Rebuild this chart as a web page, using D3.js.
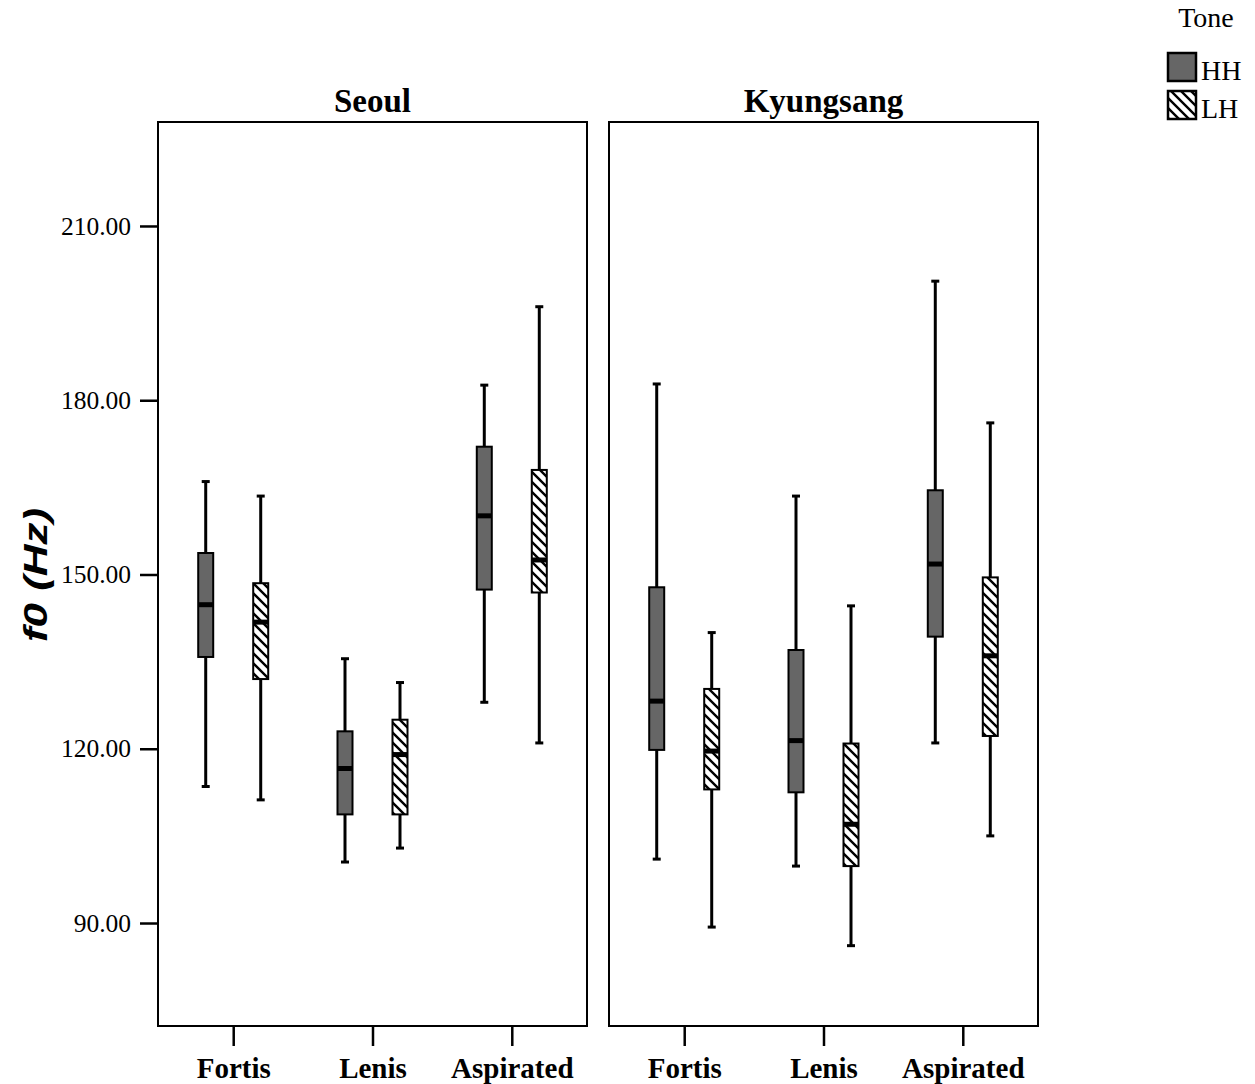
<!DOCTYPE html>
<html>
<head>
<meta charset="utf-8">
<script src="https://cdn.jsdelivr.net/npm/d3@7"></script>
<style>
  body { margin: 0; background: #fff; }
  svg { display: block; }
</style>
</head>
<body>
<svg id="chart" width="1255" height="1084"></svg>
<script>
// ---- data ----
const panels = ["Seoul", "Kyungsang"];
const categories = ["Fortis", "Lenis", "Aspirated"];
const tones = ["HH", "LH"];
const yTicks = [90, 120, 150, 180, 210];
// each entry: [lower whisker, Q1, median, Q3, upper whisker], order: Fortis, Lenis, Aspirated
const seoulHH = [
  [113.5, 135.8, 144.8, 153.7, 166.0],
  [100.5, 108.7, 116.6, 123.0, 135.5],
  [128.0, 147.4, 160.1, 172.0, 182.6]
];
const seoulLH = [
  [111.2, 132.0, 141.8, 148.5, 163.5],
  [102.9, 108.7, 119.0, 125.0, 131.4],
  [121.0, 146.9, 152.5, 168.0, 196.1]
];
const kyungHH = [
  [101.0, 119.8, 128.2, 147.8, 182.8],
  [99.8, 112.5, 121.4, 137.0, 163.5],
  [121.0, 139.3, 151.8, 164.5, 200.5]
];
const kyungLH = [
  [89.3, 113.0, 119.6, 130.3, 140.0],
  [86.1, 99.8, 107.0, 120.9, 144.6],
  [105.0, 122.2, 136.0, 149.5, 176.1]
];
const panelData = { "Seoul": { HH: seoulHH, LH: seoulLH }, "Kyungsang": { HH: kyungHH, LH: kyungLH } };

// ---- layout ----
const svg = d3.select("#chart");
const panelLefts = [158, 609];
const panelWidth = 429;
const plotTop = 122, plotBottom = 1026;
const serif = "'Liberation Serif', 'Times New Roman', serif";

const defs = svg.append("defs");
const pat = defs.append("pattern")
  .attr("id", "hatch")
  .attr("patternUnits", "userSpaceOnUse")
  .attr("width", 10).attr("height", 10);
pat.append("rect").attr("width", 10).attr("height", 10).attr("fill", "#fff");
pat.append("path")
  .attr("d", "M0,0 L10,10 M-2,8 L2,12 M8,-2 L12,2")
  .attr("stroke", "#000").attr("stroke-width", 2.4);

const fills = { HH: "#666666", LH: "url(#hatch)" };

const y = d3.scaleLinear().domain([72.27, 227.9]).range([plotBottom, plotTop]);
const sub = d3.scalePoint().domain(tones).range([-27.5, 27.5]);
const boxW = 15, capW = 8;

panels.forEach((p, pi) => {
  const left = panelLefts[pi];
  const x = d3.scalePoint().domain(categories).range([left, left + panelWidth]).padding(0.54);
  const g = svg.append("g");

  // frame
  g.append("rect")
    .attr("x", left).attr("y", plotTop)
    .attr("width", panelWidth).attr("height", plotBottom - plotTop)
    .attr("fill", "none").attr("stroke", "#000").attr("stroke-width", 2);

  // title
  g.append("text")
    .attr("x", left + panelWidth / 2).attr("y", 112)
    .attr("text-anchor", "middle")
    .attr("font-family", serif).attr("font-weight", "bold").attr("font-size", 33)
    .text(p);

  // x axis
  const xa = g.append("g").attr("transform", `translate(0,${plotBottom})`)
    .call(d3.axisBottom(x).tickSize(20).tickSizeOuter(0).tickPadding(11));
  xa.select(".domain").remove();
  xa.selectAll("line").attr("stroke", "#000").attr("stroke-width", 2.5);
  xa.selectAll("text").attr("font-family", serif).attr("font-weight", "bold")
    .attr("font-size", 29).attr("fill", "#000");

  // y axis on first panel
  if (pi === 0) {
    const ya = g.append("g").attr("transform", `translate(${left},0)`)
      .call(d3.axisLeft(y).tickValues(yTicks).tickFormat(d3.format(".2f")).tickSize(18).tickSizeOuter(0).tickPadding(9));
    ya.select(".domain").remove();
    ya.selectAll("line").attr("stroke", "#000").attr("stroke-width", 2.5);
    ya.selectAll("text").attr("font-family", serif).attr("font-size", 25.5).attr("fill", "#000");
  }

  // boxes
  tones.forEach(t => {
    panelData[p][t].forEach((d, ci) => {
      const cx = x(categories[ci]) + sub(t);
      const [lo, q1, med, q3, hi] = d;
      const bg = g.append("g");
      bg.append("line").attr("x1", cx).attr("x2", cx).attr("y1", y(hi)).attr("y2", y(q3))
        .attr("stroke", "#000").attr("stroke-width", 3);
      bg.append("line").attr("x1", cx).attr("x2", cx).attr("y1", y(q1)).attr("y2", y(lo))
        .attr("stroke", "#000").attr("stroke-width", 3);
      [hi, lo].forEach(v => {
        bg.append("line").attr("x1", cx - capW / 2).attr("x2", cx + capW / 2)
          .attr("y1", y(v)).attr("y2", y(v)).attr("stroke", "#000").attr("stroke-width", 3);
      });
      bg.append("rect").attr("x", cx - boxW / 2).attr("y", y(q3))
        .attr("width", boxW).attr("height", y(q1) - y(q3))
        .attr("fill", fills[t]).attr("stroke", "#000").attr("stroke-width", 2);
      bg.append("line").attr("x1", cx - boxW / 2).attr("x2", cx + boxW / 2)
        .attr("y1", y(med)).attr("y2", y(med)).attr("stroke", "#000").attr("stroke-width", 5);
    });
  });
});

// y-axis title
svg.append("text")
  .attr("transform", "translate(47,575) rotate(-90)")
  .attr("text-anchor", "middle")
  .attr("font-family", "'Liberation Sans', Arial, sans-serif")
  .attr("font-weight", "bold").attr("font-style", "italic").attr("font-size", 34)
  .attr("textLength", 134).attr("lengthAdjust", "spacingAndGlyphs")
  .text("f0 (Hz)");

// legend
const lg = svg.append("g");
lg.append("text").attr("x", 1206).attr("y", 27).attr("text-anchor", "middle")
  .attr("font-family", serif).attr("font-size", 28).text("Tone");
tones.forEach((t, i) => {
  const yy = 53 + i * 38;
  lg.append("rect").attr("x", 1168).attr("y", yy).attr("width", 28).attr("height", 28)
    .attr("fill", fills[t]).attr("stroke", "#000").attr("stroke-width", 2.5);
  lg.append("text").attr("x", 1201).attr("y", yy + 27)
    .attr("font-family", serif).attr("font-size", 28).text(t);
});
</script>
</body>
</html>
